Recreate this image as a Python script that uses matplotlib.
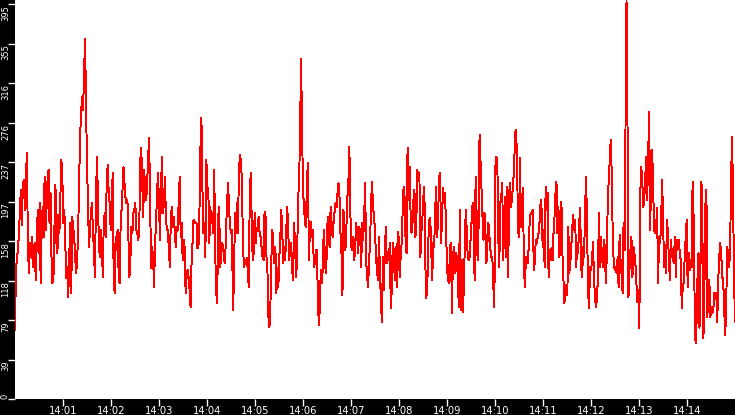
import numpy as np
import matplotlib
matplotlib.use("Agg")
import matplotlib.pyplot as plt
from matplotlib import font_manager
import matplotlib.transforms as mtransforms

# ---- data (one per ~1 px column) ----
seg1 = [69, 132, 139, 152, 164, 191, 209, 174, 216, 219, 189, 216, 246, 162, 126, 156, 142, 162, 132, 149,
        156, 119, 156, 189, 146, 196, 116, 166, 192, 162, 222, 169, 192, 219, 229, 176, 206, 142, 116, 122,
        172, 214, 156, 146, 184, 166, 202, 239, 222, 176, 189, 156, 121, 132, 102, 142, 176, 106, 182, 172,
        162, 142, 126, 139, 166, 217, 262, 286, 302, 289, 324, 360, 299, 234, 196, 152, 169, 187, 196, 169,
        149, 122, 192, 242, 206, 156, 142, 169, 159, 122, 177, 186, 162, 219, 234, 206, 196, 169, 186, 226,
        126, 106, 162, 149, 169, 129, 116, 169, 189, 209, 232, 216, 202, 196, 199, 159, 122, 139, 172, 166,
        186, 189, 196, 169, 166, 159, 172, 239, 251, 216, 182, 229, 209, 199, 216, 242, 261, 196, 131, 152,
        142, 112, 156, 176, 206, 226, 196, 159, 209, 242, 186, 196, 222, 182, 169, 169, 149, 132, 182, 192,
        172, 182, 169, 152, 172, 169, 199, 222, 162, 176, 139, 159, 152, 106, 122, 129, 122, 109, 92, 136,
        156, 179, 177, 176]
seg2 = [176, 151, 152, 187, 251, 281, 212, 166, 176, 142, 239, 212, 209, 156, 192, 176, 186, 166, 229, 146,
        106, 96, 182, 192, 132, 142, 156, 152, 139, 136, 169, 196, 216, 192, 172, 166, 169, 89, 119, 186,
        166, 196, 166, 226, 244, 239, 219, 162, 132, 136, 136, 141, 129, 112, 202, 226, 179, 139, 146, 186,
        156, 169, 172, 182, 166, 162, 152, 142, 139, 187, 182, 142, 126, 82, 72, 96, 142, 169, 146, 136,
        152, 106, 131, 112, 142, 162, 189, 166, 136, 152, 139, 169, 192, 169, 139, 149, 156, 129, 119, 176,
        152, 122, 139, 199, 217, 262, 340, 274, 209, 192, 176, 172, 219, 236, 139, 169, 177, 162, 169, 132,
        136, 149, 149, 106, 74, 89, 129, 116, 129, 169, 149, 126, 142, 182, 162, 152, 192, 176, 162, 176,
        187, 196, 192, 206, 216, 202, 166, 146, 104, 189, 169, 149, 172, 202, 216, 252, 187, 152, 149, 162,
        139, 156, 176, 162, 146, 172, 166, 132, 176, 159, 182, 216, 139, 122, 112, 139, 156, 196, 217, 192,
        182, 169, 142, 129]
seg3 = [119, 162, 129, 96, 77, 142, 109, 149, 172, 136, 146, 139, 156, 91, 109, 156, 149, 119, 152, 112,
        167, 162, 122, 142, 156, 187, 212, 202, 159, 146, 251, 199, 232, 189, 166, 176, 199, 209, 162, 182,
        229, 219, 226, 142, 166, 179, 202, 212, 136, 101, 112, 156, 179, 181, 149, 119, 156, 152, 189, 212,
        162, 182, 222, 226, 156, 182, 211, 199, 206, 172, 131, 119, 116, 152, 156, 86, 142, 152, 126, 146,
        142, 119, 92, 189, 89, 139, 87, 109, 152, 189, 169, 142, 139, 142, 162, 179, 196, 172, 119, 222,
        186, 139, 172, 264, 236, 206, 182, 159, 186, 166, 136, 156, 176, 162, 149, 142, 141, 112, 92, 232,
        242, 239, 162, 132, 196, 202, 216, 139, 176, 202, 142, 212, 122, 206, 216, 192, 202, 216, 229, 266,
        269, 242, 169, 162, 241, 172, 199, 211, 131, 112, 142, 139, 136, 156, 182, 186, 187, 189, 129, 136,
        159, 156, 162, 166, 179, 199, 189, 152, 169, 132, 212, 189, 206, 122, 149, 139, 151, 139, 166, 182,
        206]
seg4 = [217, 166, 192, 142, 166, 197, 146, 122, 96, 109, 114, 104, 172, 126, 136, 152, 172, 184, 169, 179,
        132, 156, 146, 176, 191, 132, 122, 152, 142, 191, 222, 174, 109, 91, 132, 129, 137, 157, 122, 102,
        92, 99, 122, 186, 132, 162, 146, 132, 159, 152, 116, 142, 199, 219, 239, 259, 226, 166, 136, 129,
        132, 126, 142, 112, 164, 126, 139, 106, 176, 149, 272, 398, 276, 102, 129, 149, 162, 122, 152, 146,
        136, 116, 97, 109, 71, 207, 232, 217, 192, 199, 222, 242, 199, 246, 287, 169, 226, 249, 212, 169,
        166, 172, 191, 116, 162, 156, 172, 219, 186, 132, 142, 126, 179, 166, 139, 119, 159, 146, 139, 136,
        162, 122, 159, 152, 159, 146, 139, 91, 112, 116, 142, 162, 179, 112, 146, 129, 139, 132, 217, 182,
        102, 56, 76, 122, 146, 71, 132, 217, 162, 61, 112, 194, 209, 82, 112, 119, 82, 92, 86, 89,
        106, 102, 106, 77, 119, 142, 156, 146, 122, 119, 92, 64, 86, 152, 146, 132, 146, 219, 262, 206,
        122, 77]
values = seg1 + seg2 + seg3 + seg4

x_tick_labels = ["14:01", "14:02", "14:03", "14:04", "14:05", "14:06", "14:07",
                 "14:08", "14:09", "14:10", "14:11", "14:12", "14:13", "14:14"]
y_max = 395
y_ticks = [y_max * k / 10 for k in range(11)]
y_tick_labels = [str(int(v)) for v in y_ticks]

# ---- fonts ----
installed = {f.name for f in font_manager.fontManager.ttflist}
narrow = "Liberation Sans Narrow" if "Liberation Sans Narrow" in installed else "DejaVu Sans"
ysize = 8.0 if narrow != "DejaVu Sans" else 6.0

# ---- figure ----
W, H, DPI = 735, 415, 100
fig = plt.figure(figsize=(W / DPI, H / DPI), dpi=DPI, facecolor="black")
ax = fig.add_axes([15 / W, 16 / H, 720 / W, 399 / H], facecolor="white")

minutes = np.linspace(0, 15, len(values))
ax.plot(minutes, values, color="#ff0000", lw=0.7, antialiased=False)

ax.set_xlim(0, 15)
ax.set_ylim(0, 399)
for s in ax.spines.values():
    s.set_visible(False)

ax.set_xticks(range(1, 15))
ax.set_xticklabels(x_tick_labels)
ax.tick_params(axis="x", colors="white", direction="out", length=5, width=1, pad=0.3,
               labelsize=7.2)
for t in ax.get_xticklabels():
    t.set_color("white")

ax.set_yticks(y_ticks)
ax.tick_params(axis="y", colors="white", direction="out", length=5, width=1, labelleft=False)

trans = mtransforms.blended_transform_factory(fig.transFigure, ax.transData)
for v, lab in zip(y_ticks, y_tick_labels):
    va = "bottom" if v == 0 else "top"
    yy = v if v == 0 else v - 1
    ax.text(5.5 / W, yy, lab, transform=trans, rotation=90, ha="center", va=va,
            color="white", fontsize=ysize, family=[narrow, "DejaVu Sans"], clip_on=False)

fig.savefig("out.png", dpi=DPI, facecolor="black")
